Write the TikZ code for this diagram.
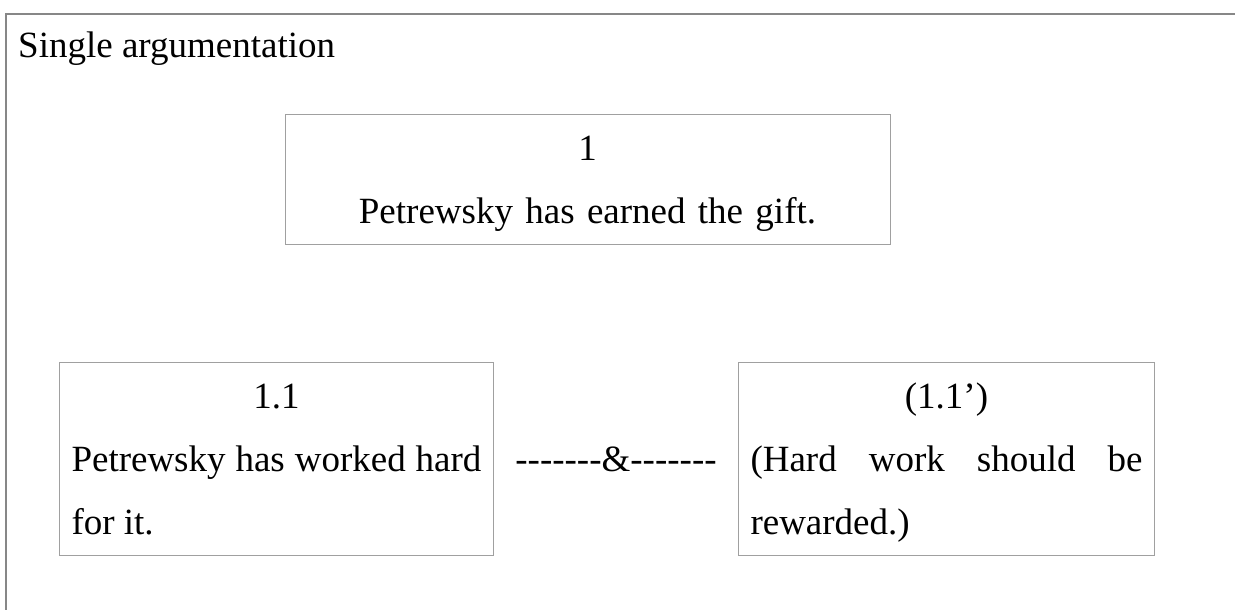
\documentclass[tikz,border=0pt]{standalone}
\usepackage{fontspec}
\setmainfont{Liberation Serif}
\usetikzlibrary{positioning}
\definecolor{linegray}{RGB}{160,160,160}
\definecolor{framegray}{RGB}{135,135,135}
\newcommand{\argfont}{\fontsize{37}{63}\selectfont\parindent=0pt\parskip=0pt\hyphenpenalty=10000\tolerance=9999}
\newcommand{\dashrun}{-\kern0pt-\kern0pt-\kern0pt-\kern0pt-\kern0pt-\kern0pt-}
\tikzstyle{block} = [rectangle, draw=linegray, line width=1pt, inner xsep=12pt, inner ysep=2pt, font=\argfont, align=justify]
\tikzstyle{label} = [inner sep=0pt, font=\argfont]

\begin{document}
\begin{tikzpicture}[x=1pt, y=-1pt]
\useasboundingbox (0,0) rectangle (1235,610);
\draw [framegray, line width=1.5pt] (6,610) -- (6,14) -- (1235,14);
\node [label, anchor=base west] (title) at (18,58) {Single argumentation};
\node [block, anchor=north, text width=581pt, align=center] (main) at (587.5,114) {\strut 1\\ Petrewsky has earned the gift.\strut};
\node [block, anchor=north west, text width=410pt] (sub) at (59,362) {{\centering\strut 1.1\par}Petrewsky has worked hard for it.\strut};
\node [block, anchor=north west, text width=392pt] (warrant) at (738,362) {{\centering\strut (1.1')\par}(Hard work should be\linebreak rewarded.)\strut};
\node [label, anchor=base] (and) at (616,471) {\dashrun\&\dashrun};
\end{tikzpicture}
\end{document}
